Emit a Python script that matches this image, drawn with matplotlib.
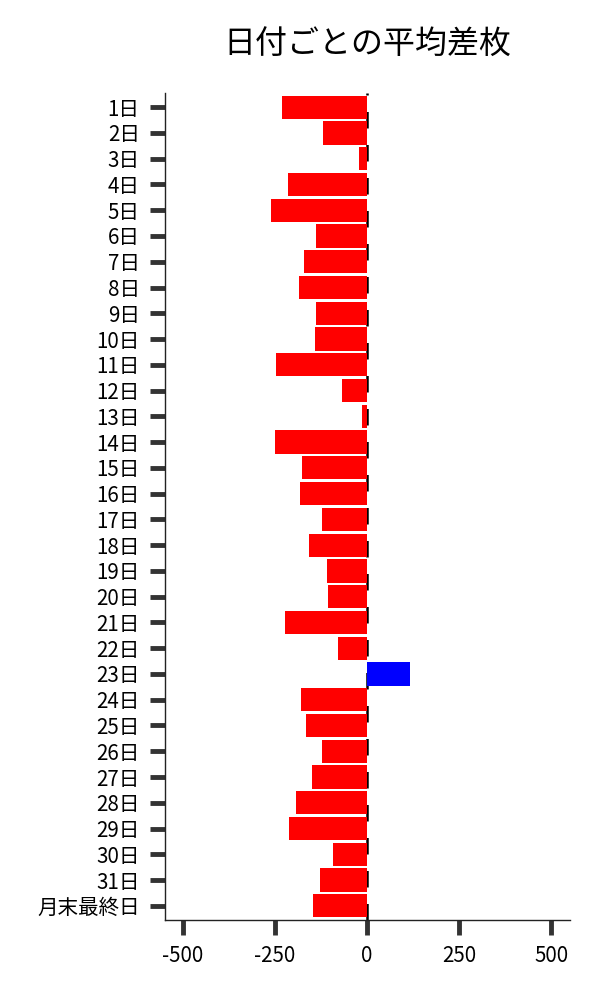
import matplotlib
matplotlib.use("Agg")
import matplotlib.pyplot as plt

plt.rcParams['font.family'] = ['Noto Sans CJK JP', 'DejaVu Sans']

days = [f"{i}日" for i in range(1, 32)] + ["月末最終日"]
values = [-232, -121, -21, -215, -261, -140, -172, -186, -140, -142,
          -248, -67, -13, -250, -178, -183, -123, -159, -110, -105,
          -223, -80, 116, -180, -167, -123, -150, -194, -211, -93,
          -127, -148]
xticks = [-500, -250, 0, 250, 500]
title = "日付ごとの平均差枚"

colors = ['#0000FF' if v > 0 else '#FF0000' for v in values]

fig = plt.figure(figsize=(6, 10), dpi=100)
ax = fig.add_axes([0.2743, 0.08, 0.675, 0.827])

ypos = list(range(len(days)))
ax.barh(ypos, values, height=0.9, color=colors, zorder=2)
ax.axvline(0, color='black', linewidth=1.8, linestyle=(0, (6.6, 6.6)), zorder=1)

ax.set_yticks(ypos)
ax.set_yticklabels(days)
ax.set_ylim(31.55, -0.55)
ax.set_xlim(-550, 550)
ax.set_xticks(xticks)
ax.set_xticklabels([str(x) for x in xticks])

for s in ['top', 'right']:
    ax.spines[s].set_visible(False)
for s in ['left', 'bottom']:
    ax.spines[s].set_linewidth(1.0)
    ax.spines[s].set_color('#222222')

ax.tick_params(axis='both', length=11, width=3.5, color='#333333',
               labelsize=14.8, pad=7)
ax.set_title(title, fontsize=23, pad=28)

fig.savefig("out.png", dpi=100)
